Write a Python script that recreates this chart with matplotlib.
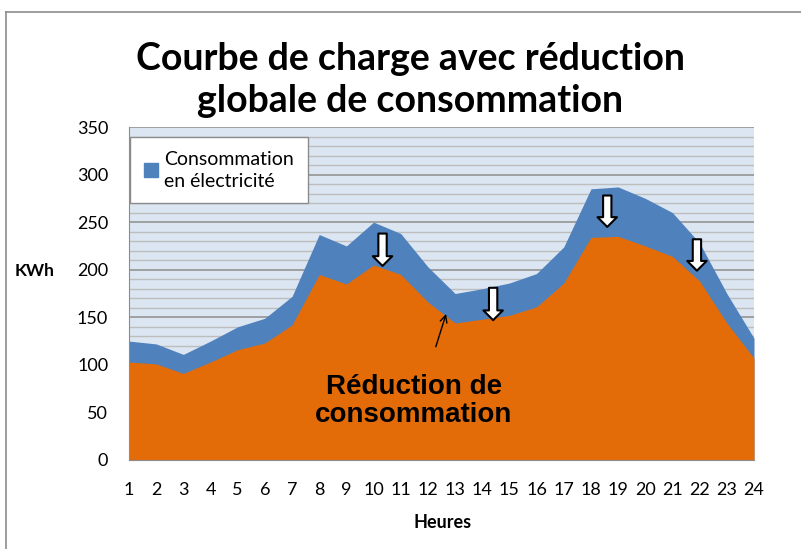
import matplotlib.pyplot as plt
from matplotlib.patches import Patch
from matplotlib.lines import Line2D
import numpy as np

# Data
heures = list(range(1, 25))
conso = [125, 122, 111, 125, 140, 149, 172, 237, 225, 250, 238, 203,
         175, 180, 186, 196, 224, 285, 287, 275, 260, 228, 175, 128]
conso_reduite = [103, 101, 91, 103, 116, 123, 142, 195, 185, 205, 195, 166,
                 144, 148, 152, 161, 186, 234, 235, 225, 214, 188, 144, 107]

# arrows showing the reduction (x, top, bottom)
fleches_x = [10.33, 14.4, 18.6, 21.9]
fleches_haut = [238, 181, 278, 232]
fleches_bas = [204, 147, 245, 199]

bleu = '#4F81BD'
orange = '#E36C09'
font = 'Lato'

fig = plt.figure(figsize=(8.01, 5.49), dpi=100)
ax = fig.add_axes([129/801, 1-460/549, 625/801, 333/549])
ax.set_facecolor('#DCE6F2')

ax.fill_between(heures, 0, conso, color=bleu, lw=0, zorder=2)
ax.fill_between(heures, 0, conso_reduite, color=orange, lw=0, zorder=3)

ax.set_xlim(1, 24)
ax.set_ylim(0, 350)
ax.set_xticks(heures)
ax.set_yticks(np.arange(0, 351, 50))
ax.set_yticks(np.arange(0, 351, 10), minor=True)
ax.grid(True, which='minor', axis='y', color='#BDBDBD', lw=1.0, zorder=1)
ax.grid(True, which='major', axis='y', color='#9A9A9A', lw=1.3, zorder=1)
ax.set_axisbelow(True)
ax.tick_params(which='both', length=0)
ax.tick_params(axis='y', pad=15)
ax.tick_params(axis='x', pad=16)
for lab in ax.get_xticklabels() + ax.get_yticklabels():
    lab.set_fontfamily(font)
    lab.set_fontsize(13)
for s in ['top', 'right']:
    ax.spines[s].set_visible(False)
for s in ['left', 'bottom']:
    ax.spines[s].set_color('#8C8C8C')
    ax.spines[s].set_zorder(4)

leg = ax.legend(handles=[Patch(color=bleu, label='Consommation\nen électricité')],
                loc='upper left', bbox_to_anchor=(0.002, 0.97), frameon=True,
                fancybox=False, edgecolor='#8C8C8C', framealpha=1,
                handlelength=0.75, handleheight=0.75, handletextpad=0.3,
                prop={'family': font, 'size': 14}, borderpad=0.7,
                borderaxespad=0)
leg.get_texts()[0].set_linespacing(1.35)
leg.get_frame().set_linewidth(1.0)
leg.set_zorder(6)

for x, h, b in zip(fleches_x, fleches_haut, fleches_bas):
    ax.annotate('', xy=(x, b), xytext=(x, h), zorder=7,
                arrowprops=dict(arrowstyle='simple,head_length=7,head_width=14,tail_width=6',
                                mutation_scale=1, fc='white', ec='black', lw=1.5,
                                shrinkA=0, shrinkB=0))

ax.annotate('', xy=(12.67, 153.5), xytext=(12.29, 119), zorder=7,
            arrowprops=dict(arrowstyle='->,head_length=0.5,head_width=0.25',
                            color='black', lw=1.0, shrinkA=0, shrinkB=0))

ax.text(11.48, 62, 'Réduction de\nconsommation', ha='center', va='center',
        fontfamily='Liberation Sans', fontweight='bold', fontsize=20,
        linespacing=1.1, zorder=7)

fig.text(410/801, 1-80/549, 'Courbe de charge avec réduction\nglobale de consommation',
         ha='center', va='center', fontfamily=font, fontweight='bold',
         fontsize=27, linespacing=1.3)
fig.text(35/801, 1-271/549, 'KWh', ha='center', va='center', fontfamily=font,
         fontweight='bold', fontsize=12.5)
fig.text(443/801, 1-522/549, 'Heures', ha='center', va='center', fontfamily=font,
         fontweight='bold', fontsize=13)

# chart border (only left and top visible in the crop)
fig.add_artist(Line2D([6/801, 6/801], [0, 1-12/549], color='#8C8C8C', lw=1.2))
fig.add_artist(Line2D([6/801, 1], [1-12/549, 1-12/549], color='#8C8C8C', lw=1.2))

fig.savefig('out.png', dpi=100)
